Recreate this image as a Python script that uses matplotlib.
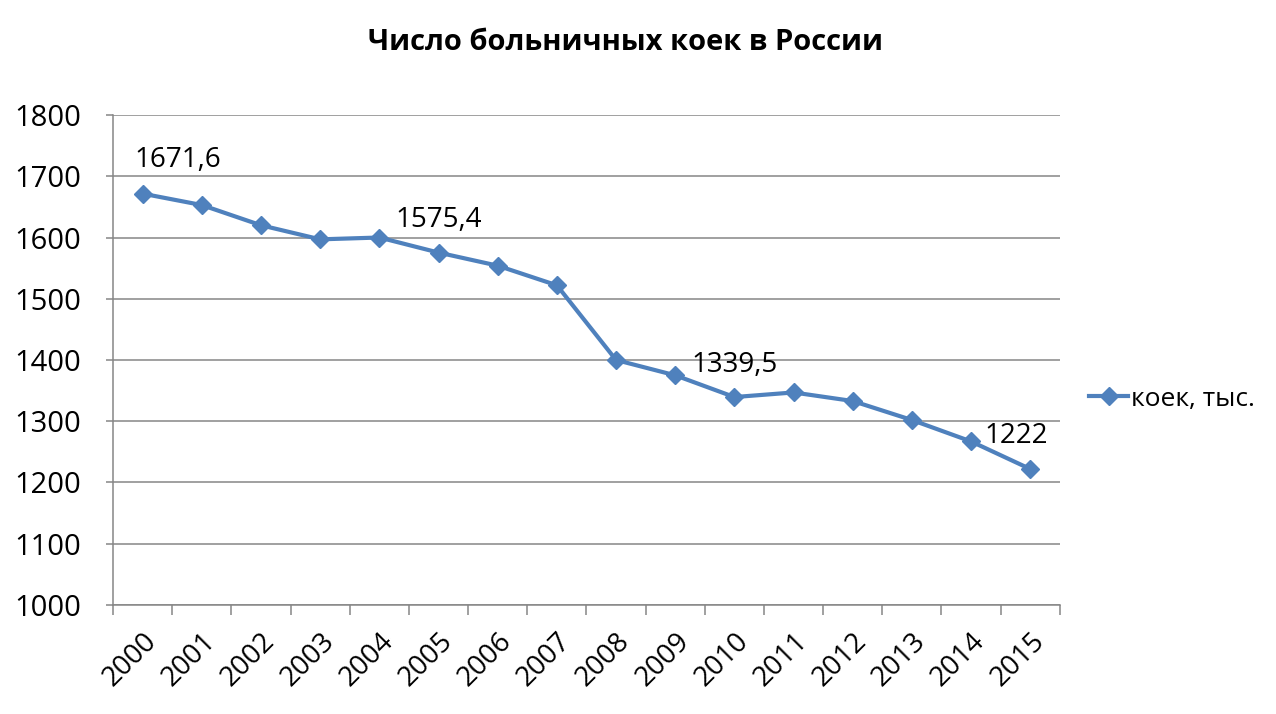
import matplotlib
matplotlib.use("Agg")
import matplotlib.pyplot as plt
import numpy as np

years = [str(y) for y in range(2000, 2016)]
beds = [1671.6, 1653, 1620, 1597, 1600, 1575.4, 1554, 1522, 1400,
        1375, 1339.5, 1347, 1333, 1302, 1267, 1222]
labelled = {0: "1671,6", 5: "1575,4", 10: "1339,5", 15: "1222"}
# label positions (category index, value)
label_pos = {0: (0.6, 1726), 5: (5.0, 1629), 10: (10.0, 1392), 15: (14.77, 1276)}

plt.rcParams["font.family"] = ["Open Sans", "DejaVu Sans"]
grid_color = "#868686"
line_color = "#4F81BD"

fig = plt.figure(figsize=(12.76, 7.14), dpi=100)
ax = fig.add_axes([0.0886, 0.1527, 0.742, 0.6862])

x = np.arange(len(years))
ax.plot(x, beds, color=line_color, lw=3, marker="D", markersize=9,
        label="коек, тыс.", zorder=3)

for i, txt in labelled.items():
    lx, ly = label_pos[i]
    ax.text(lx, ly, txt, ha="center", va="center", fontsize=20, color="black")

ax.set_xlim(-0.5, len(years) - 0.5)
ax.set_ylim(1000, 1800)
ax.set_yticks(range(1000, 1801, 100))
ax.yaxis.grid(True, color=grid_color, lw=1.1)
ax.set_axisbelow(True)

ax.set_xticks(x)
ax.set_xticklabels(years, rotation=45, ha="right", rotation_mode="anchor", fontsize=20)
ax.set_xticks(np.arange(-0.5, len(years)), minor=True)
ax.tick_params(axis="x", which="major", length=0, pad=16)
ax.tick_params(axis="x", which="minor", length=7, color=grid_color, width=1.1)
ax.tick_params(axis="y", length=5, color=grid_color, width=1.1, labelsize=21, pad=18)

for s in ["top", "right"]:
    ax.spines[s].set_visible(False)
for s in ["left", "bottom"]:
    ax.spines[s].set_color(grid_color)
    ax.spines[s].set_linewidth(1.1)

fig.text(0.49, 0.941, "Число больничных коек в России", ha="center", va="center",
         fontsize=21, fontweight="bold")

fig.legend(loc="center left", bbox_to_anchor=(0.843, 0.441), frameon=False,
           fontsize=19, handlelength=1.5, handletextpad=0.1, borderpad=0)

fig.savefig("out.png", dpi=100)
